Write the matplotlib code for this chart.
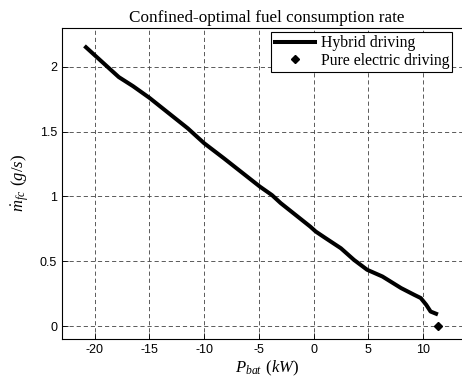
import matplotlib
matplotlib.use('Agg')
import matplotlib.pyplot as plt

# battery power (kW) vs confined-optimal fuel rate (g/s)
p_bat = [-20.8, -17.8, -16.5, -15.0, -11.5, -10.0, -8.2, -4.9, -3.8, -3.0,
         -0.3, 0.2, 1.1, 2.5, 3.7, 4.9, 6.3, 8.0, 9.2, 9.8, 10.3, 10.7, 11.2]
m_fc = [2.15, 1.92, 1.85, 1.76, 1.525, 1.41, 1.294, 1.075, 1.01, 0.948,
        0.767, 0.729, 0.678, 0.60, 0.51, 0.434, 0.382, 0.293, 0.241, 0.216,
        0.164, 0.112, 0.095]
p_ev = [11.4]
m_ev = [0.0]

xticks = [-20, -15, -10, -5, 0, 5, 10]
yticks = [0, 0.5, 1, 1.5, 2]

plt.rcParams['mathtext.fontset'] = 'custom'
plt.rcParams['mathtext.rm'] = 'Liberation Serif'
plt.rcParams['mathtext.it'] = 'Liberation Serif:italic'
plt.rcParams['axes.unicode_minus'] = False
serif = 'Liberation Serif'

fig = plt.figure(figsize=(4.62, 3.89), dpi=100)
ax = fig.add_axes([0.134, 0.1285, 0.888, 0.8])

ax.plot(p_bat, m_fc, color='black', lw=2.9, label='Hybrid driving')
ax.plot(p_ev, m_ev, 'D', color='black', ms=4.5, label='Pure electric driving')

ax.set_xlim(-23, 14.5)
ax.set_ylim(-0.1, 2.3)
ax.set_xticks(xticks)
ax.set_yticks(yticks)
ax.set_yticklabels(['0', '0.5', '1', '1.5', '2'])
ax.tick_params(direction='in', length=4, labelsize=9, width=0.6)
for lab in ax.get_xticklabels() + ax.get_yticklabels():
    lab.set_family('Liberation Sans')
ax.grid(True, color='0.25', lw=0.6, linestyle=(0, (5, 3.5)))
for s in ax.spines.values():
    s.set_linewidth(0.8)

ax.set_title('Confined-optimal fuel consumption rate', family=serif, fontsize=12.3, pad=4)
ax.set_xlabel(r'$P_{bat}$ $(kW)$', fontsize=12, labelpad=2)
ax.set_ylabel(r'$\dot{m}_{fc}$ $(g/s)$', fontsize=12, labelpad=6)

leg = ax.legend(loc='upper right', bbox_to_anchor=(0.952, 0.987), prop={'family': serif, 'size': 11.3},
                frameon=True, fancybox=False, edgecolor='black', framealpha=1,
                handlelength=2.6, borderpad=0.2, labelspacing=0.1, handletextpad=0.35,
                borderaxespad=0)
leg.get_frame().set_linewidth(0.8)

fig.savefig('out.png', dpi=100)
